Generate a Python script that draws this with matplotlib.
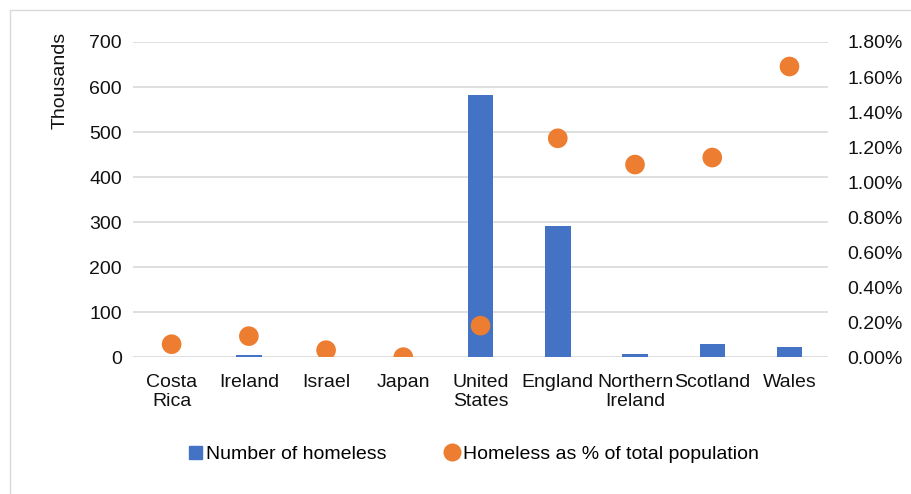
import matplotlib.pyplot as plt
import numpy as np
from matplotlib.ticker import PercentFormatter
from matplotlib.lines import Line2D
from matplotlib.patches import Patch

plt.rcParams['font.family'] = ['Liberation Sans', 'DejaVu Sans']

countries = ['Costa\nRica', 'Ireland', 'Israel', 'Japan', 'United\nStates',
             'England', 'Northern\nIreland', 'Scotland', 'Wales']
# thousands of homeless people
homeless = [0.5, 4, 0.5, 0.3, 582, 291, 8, 29, 22]
# homeless as % of total population
pct = [0.074, 0.12, 0.04, 0.0, 0.18, 1.25, 1.10, 1.14, 1.66]

bar_color = '#4472C4'
dot_color = '#ED7D31'
fs = 14

fig = plt.figure(figsize=(9.11, 4.94), dpi=100)
ax = fig.add_axes([0.146, 0.277, 0.763, 0.638])
ax2 = ax.twinx()

x = np.arange(len(countries))
ax.bar(x, homeless, width=0.33, color=bar_color, zorder=2)
ax2.scatter(x, pct, s=200, color=dot_color, zorder=3, edgecolors='none')

ax.set_xlim(-0.5, len(countries) - 0.5)
ax.set_ylim(0, 700)
ax.set_yticks(range(0, 701, 100))
ax2.set_ylim(0, 1.8)
ax2.set_yticks(np.arange(0, 1.81, 0.2))
ax2.yaxis.set_major_formatter(PercentFormatter(decimals=2))

ax.grid(axis='y', color='#d9d9d9', linewidth=1.2, zorder=0)
ax.set_axisbelow(True)
for a in (ax, ax2):
    for s in a.spines.values():
        s.set_visible(False)
    a.tick_params(length=0, labelsize=fs, colors='#111111')
ax.tick_params(axis='y', pad=8)
ax2.tick_params(axis='y', pad=14)
ax.set_xticks(x)
ax.set_xticklabels(countries, fontsize=fs, linespacing=1.2)
ax.tick_params(axis='x', pad=12)
fig.text(0.066, 0.935, 'Thousands', rotation=90, ha='center', va='top',
         fontsize=fs, color='#111111')

handles = [Patch(color=bar_color, label='Number of homeless'),
           Line2D([], [], marker='o', linestyle='none', markersize=13,
                  markerfacecolor=dot_color, markeredgecolor='none',
                  label='Homeless as % of total population')]
fig.legend(handles=handles, loc='center', bbox_to_anchor=(0.52, 0.08), ncol=2,
           frameon=False, fontsize=fs, handlelength=0.7, handletextpad=0.2,
           columnspacing=3.0)

fig.patches.append(plt.Rectangle((0.011, -0.05), 1.2, 1.03, transform=fig.transFigure,
                                 fill=False, edgecolor='#d9d9d9', linewidth=1))

fig.savefig('out.png', dpi=100)
